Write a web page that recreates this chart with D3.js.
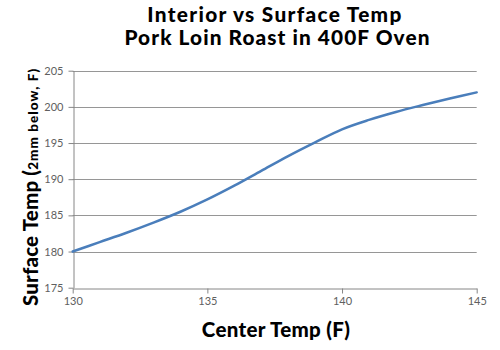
<!DOCTYPE html>
<html>
<head>
<meta charset="utf-8">
<script src="https://cdn.jsdelivr.net/npm/d3@7"></script>
<style>
  html, body { margin: 0; padding: 0; background: #fff; }
  svg { display: block; }
</style>
</head>
<body>
<svg id="chart" width="500" height="350"></svg>
<script>
// ---- data ----
const centerTemps  = [130, 131, 132, 133, 134, 135, 136, 137, 138, 139, 140, 141, 142, 143, 144, 145];
const surfaceTemps = [180.0, 181.3, 182.6, 184.0, 185.5, 187.2, 189.1, 191.15, 193.2, 195.1, 196.9, 198.2, 199.3, 200.25, 201.15, 202.0];
const xTicks = [130, 135, 140, 145];
const yTicks = [175, 180, 185, 190, 195, 200, 205];
const titleLines = ["Interior vs Surface Temp", "Pork Loin Roast in 400F Oven"];
const xTitle = "Center Temp (F)";
const yTitleMain = "Surface Temp (";
const yTitleSmall = "2mm below, F)";

// ---- layout ----
const svg = d3.select("#chart");
const L = 72.7, R = 476.7, T = 70.7, B = 287.7;
const x = d3.scaleLinear().domain([130, 145]).range([L, R]);
const y = d3.scaleLinear().domain([175, 205]).range([B, T]);
const FONT = "Lato, 'Open Sans', sans-serif";
const HEAVY = 900;

function fitSpacing(sel, target) {
  const node = sel.node();
  const w = node.getComputedTextLength();
  const n = node.textContent.length;
  sel.attr("letter-spacing", ((target - w) / Math.max(1, n - 1)).toFixed(3));
}

// gridlines
svg.append("g")
  .selectAll("line")
  .data(yTicks.filter(d => d !== 175))
  .join("line")
  .attr("x1", L).attr("x2", R)
  .attr("y1", d => Math.round(y(d)) + 0.5).attr("y2", d => Math.round(y(d)) + 0.5)
  .attr("stroke", "#969696").attr("stroke-width", 1);

// axes
const xAxis = svg.append("g")
  .attr("transform", `translate(0,${Math.round(B) + 0.5})`)
  .call(d3.axisBottom(x).tickValues(xTicks).tickSize(5).tickSizeOuter(0).tickPadding(4));
const yAxis = svg.append("g")
  .attr("transform", `translate(${Math.round(L) + 0.5},0)`)
  .call(d3.axisLeft(y).tickValues(yTicks).tickSize(5).tickSizeOuter(0).tickPadding(5));
[xAxis, yAxis].forEach(g => {
  g.select(".domain").attr("stroke", "#868686");
  g.selectAll(".tick line").attr("stroke", "#868686");
  g.selectAll(".tick text").attr("fill", "#606060").attr("font-family", FONT).attr("font-size", 11);
});

// line
const line = d3.line()
  .x((d, i) => x(centerTemps[i]))
  .y(d => y(d))
  .curve(d3.curveCatmullRom.alpha(0.5));
svg.append("path")
  .datum(surfaceTemps)
  .attr("d", line)
  .attr("fill", "none")
  .attr("stroke", "#4a7ebb")
  .attr("stroke-width", 2.5)
  .attr("stroke-linecap", "round");

// title
const t1 = svg.append("text").attr("x", 275).attr("y", 21.7).attr("text-anchor", "middle")
  .attr("font-family", FONT).attr("font-weight", HEAVY).attr("font-size", 20.8).attr("fill", "#000")
  .text(titleLines[0]);
const t2 = svg.append("text").attr("x", 277.5).attr("y", 45).attr("text-anchor", "middle")
  .attr("font-family", FONT).attr("font-weight", HEAVY).attr("font-size", 20.8).attr("fill", "#000")
  .text(titleLines[1]);
fitSpacing(t1, 254);
fitSpacing(t2, 305);

// x title
const xt = svg.append("text").attr("x", 276).attr("y", 337.3).attr("text-anchor", "middle")
  .attr("font-family", FONT).attr("font-weight", HEAVY).attr("font-size", 20.5).attr("fill", "#000")
  .text(xTitle);
fitSpacing(xt, 148);

// y title
const yt = svg.append("text")
  .attr("transform", "translate(38,306) rotate(-90)")
  .attr("font-family", FONT).attr("font-weight", HEAVY).attr("fill", "#000");
const yMain = yt.append("tspan").attr("font-size", 20.5).text(yTitleMain);
const ySmall = yt.append("tspan").attr("font-size", 13.5).text(yTitleSmall);
(function () {
  const tmp = svg.append("text").attr("font-family", FONT).attr("font-weight", HEAVY).attr("font-size", 20.5).text(yTitleMain);
  const w1 = tmp.node().getComputedTextLength();
  tmp.attr("font-size", 13.5).text(yTitleSmall);
  const w2 = tmp.node().getComputedTextLength();
  tmp.remove();
  yMain.attr("letter-spacing", ((136 - w1) / (yTitleMain.length - 1)).toFixed(3));
  ySmall.attr("letter-spacing", ((101 - w2) / (yTitleSmall.length - 1)).toFixed(3));
})();
</script>
</body>
</html>
